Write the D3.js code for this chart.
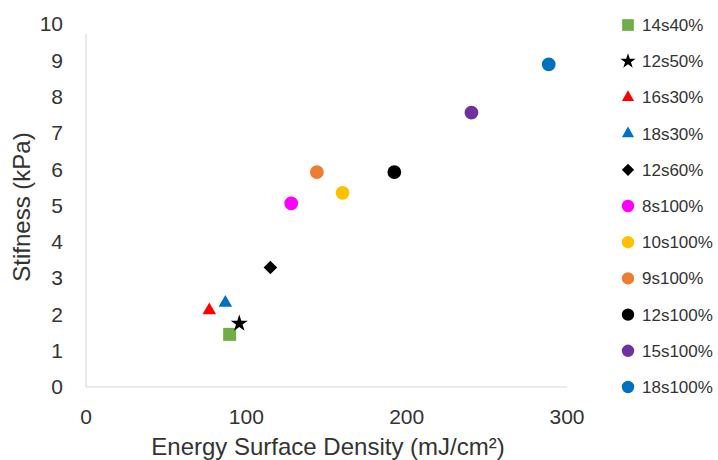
<!DOCTYPE html>
<html><head><meta charset="utf-8">
<script src="https://cdn.jsdelivr.net/npm/d3@7"></script>
<style>body{margin:0;background:#fff}svg{display:block}text{font-family:"Liberation Sans",Arial,sans-serif;fill:#333333}</style>
</head><body><svg id="c" width="718" height="460"></svg>
<script>
const labels = ["14s40%","12s50%","16s30%","18s30%","12s60%","8s100%","10s100%","9s100%","12s100%","15s100%","18s100%"];
const energy = [89.6, 95.6, 76.9, 86.9, 115, 128, 160, 144, 192.3, 240.4, 288.6];
const stiffness = [1.45, 1.75, 2.11, 2.32, 3.29, 5.06, 5.35, 5.92, 5.92, 7.56, 8.89];
const colors = ["#70ad47","#000000","#ff0000","#0070c0","#000000","#ff00ff","#ffc000","#ed7d31","#000000","#7030a0","#0070c0"];
const shapes = ["square","star","triangle","triangle","diamond","circle","circle","circle","circle","circle","circle"];
const xTicks = [0,100,200,300];
const yTicks = [0,1,2,3,4,5,6,7,8,9,10];

const svg = d3.select("#c");
const x = d3.scaleLinear().domain([0,300]).range([86,567]);
const y = d3.scaleLinear().domain([0,10]).range([387,24]);

function sym(s){
  if(s==="square") return d3.symbol(d3.symbolSquare,169)();
  if(s==="star") return d3.symbol(d3.symbolStar,90)();
  if(s==="triangle") return d3.symbol(d3.symbolTriangle,80)();
  if(s==="diamond") return d3.symbol(d3.symbolSquare,92)();
  return d3.symbol(d3.symbolCircle,150)();
}
function rot(s){return s==="diamond"?" rotate(45)":"";}

// axes lines
svg.append("line").attr("x1",x(0)).attr("x2",x(300)).attr("y1",y(0)).attr("y2",y(0)).attr("stroke","#d9d9d9").attr("stroke-width",1.2);
svg.append("line").attr("x1",x(0)).attr("x2",x(0)).attr("y1",y(0)).attr("y2",y(10)+10).attr("stroke","#d9d9d9").attr("stroke-width",1.2);

// tick labels
svg.selectAll(".yt").data(yTicks).enter().append("text")
  .attr("x",63).attr("y",d=>y(d)).attr("dy","0.35em").attr("text-anchor","end")
  .attr("font-size",21).text(d=>d);
svg.selectAll(".xt").data(xTicks).enter().append("text")
  .attr("x",d=>x(d)).attr("y",417).attr("dy","0.35em").attr("text-anchor","middle")
  .attr("font-size",21).text(d=>d);

// titles
svg.append("text").attr("x",328).attr("y",447).attr("dy","0.35em").attr("text-anchor","middle")
  .attr("font-size",24).text("Energy Surface Density (mJ/cm²)");
svg.append("text").attr("transform","translate(22,207) rotate(-90)").attr("dy","0.35em").attr("text-anchor","middle")
  .attr("font-size",24).text("Stifness (kPa)");

// points
const data = labels.map((l,i)=>({l, x:energy[i], y:stiffness[i], c:colors[i], s:shapes[i]}));
svg.selectAll(".pt").data(data).enter().append("path")
  .attr("d",d=>sym(d.s))
  .attr("transform",d=>`translate(${x(d.x)},${y(d.y)})${rot(d.s)}`)
  .attr("fill",d=>d.c);

// legend
const lg = svg.append("g");
const ly = i => 25 + i*36.2;
lg.selectAll("path").data(data).enter().append("path")
  .attr("d",d=>sym(d.s))
  .attr("transform",(d,i)=>`translate(628,${ly(i)})${rot(d.s)} scale(0.9)`)
  .attr("fill",d=>d.c);
lg.selectAll("text").data(data).enter().append("text")
  .attr("x",642).attr("y",(d,i)=>ly(i)).attr("dy","0.35em")
  .attr("font-size",17).text(d=>d.l);
</script></body></html>
